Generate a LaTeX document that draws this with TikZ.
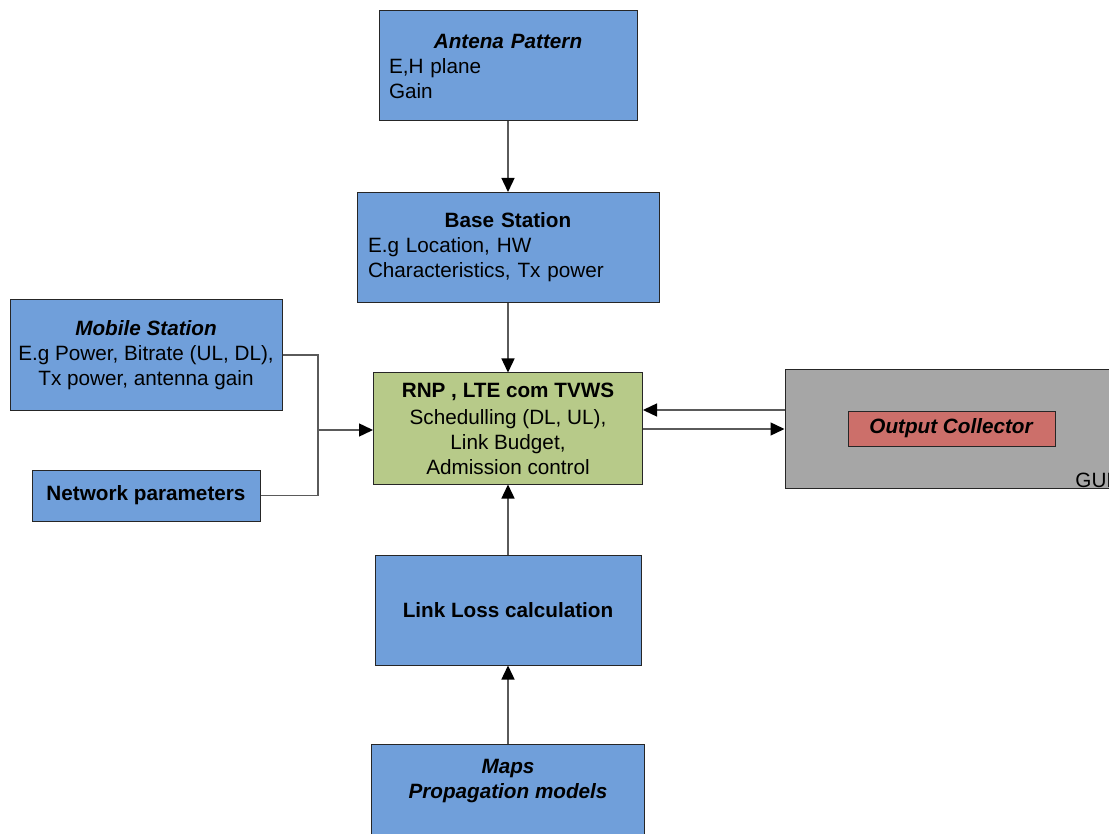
\documentclass[tikz,border=0pt]{standalone}
\usepackage{fontspec}
\setmainfont{Liberation Sans}
\usetikzlibrary{arrows.meta}
\definecolor{boxblue}{RGB}{112,159,218}
\definecolor{boxgreen}{RGB}{183,202,137}
\definecolor{guigray}{RGB}{166,166,166}
\definecolor{ocred}{RGB}{204,111,106}
\definecolor{linegray}{RGB}{90,90,90}
\begin{document}
\begin{tikzpicture}[x=0.5pt,y=-0.5pt,
  font=\fontsize{10.35pt}{12.5pt}\selectfont,
  box/.style={draw=black!85, line width=0.5pt, fill=boxblue, inner sep=0pt},
  plainline/.style={draw=linegray, line width=0.7pt},
  conn/.style={plainline, -{Triangle[length=7pt,width=6.5pt,color=black]}}
]
\useasboundingbox (0,0) rectangle (1109,834);
\clip (0,0) rectangle (1109,834);

\node[box, minimum width=129pt, minimum height=55pt, text width=119pt, inner xsep=5pt] (ant) at (508,66)
  {\centering\textbf{\textit{Antena Pattern}}\par\raggedright E,H plane\\Gain\par};
\node[box, minimum width=151pt, minimum height=55pt, text width=140pt, inner xsep=5.5pt] (bs) at (508,247.5)
  {\centering\textbf{Base Station}\par\raggedright E.g Location, HW\\Characteristics, Tx power\par};
\node[box, minimum width=136pt, minimum height=55.5pt, align=center, text depth=1.5pt] (ms) at (146,355)
  {\textbf{\textit{Mobile Station}}\\E.g Power, Bitrate (UL, DL),\\Tx power, antenna gain};
\node[box, minimum width=114pt, minimum height=25.5pt, align=center] (np) at (146,495.5)
  {\textbf{Network parameters}};
\node[box, fill=boxgreen, minimum width=134.5pt, minimum height=55.5pt, align=center] (rnp) at (508,428.5)
  {\textbf{RNP , LTE com TVWS}\\[1pt]Schedulling (DL, UL),\\Link Budget,\\Admission control};
\node[box, fill=guigray, minimum width=177.5pt, minimum height=59pt] (gui) at (962.5,429) {};
\node[box, fill=ocred, minimum width=103.5pt, minimum height=17.5pt] (oc) at (951.5,428.5)
  {\textbf{\textit{Output Collector}}};
\node[anchor=base west, inner sep=0pt] (guilabel) at (1075,487) {GUI};
\node[box, minimum width=133pt, minimum height=55pt, align=center] (ll) at (508,610)
  {\textbf{Link Loss calculation}};
\node[box, minimum width=136.5pt, minimum height=58pt] (maps) at (508,802) {};
\node[align=center, inner sep=0pt] (mapslabel) at (508,781)
  {\textbf{\textit{Maps}}\\\textbf{\textit{Propagation models}}};

\coordinate (join) at (318,430);

\draw[conn] (ant) -- (bs);
\draw[conn] (bs) -- (rnp);
\draw[conn] (ll) -- (rnp);
\draw[conn] (maps) -- (ll);
\draw[plainline] (ms.east) -| (join);
\draw[plainline] (np.east) -| (join);
\draw[conn] (join) -- (join -| rnp.west);
\draw[conn] (gui.west |- 0,410) -- (rnp.east |- 0,410);
\draw[conn] (rnp.east |- 0,429) -- (gui.west |- 0,429);
\end{tikzpicture}
\end{document}
